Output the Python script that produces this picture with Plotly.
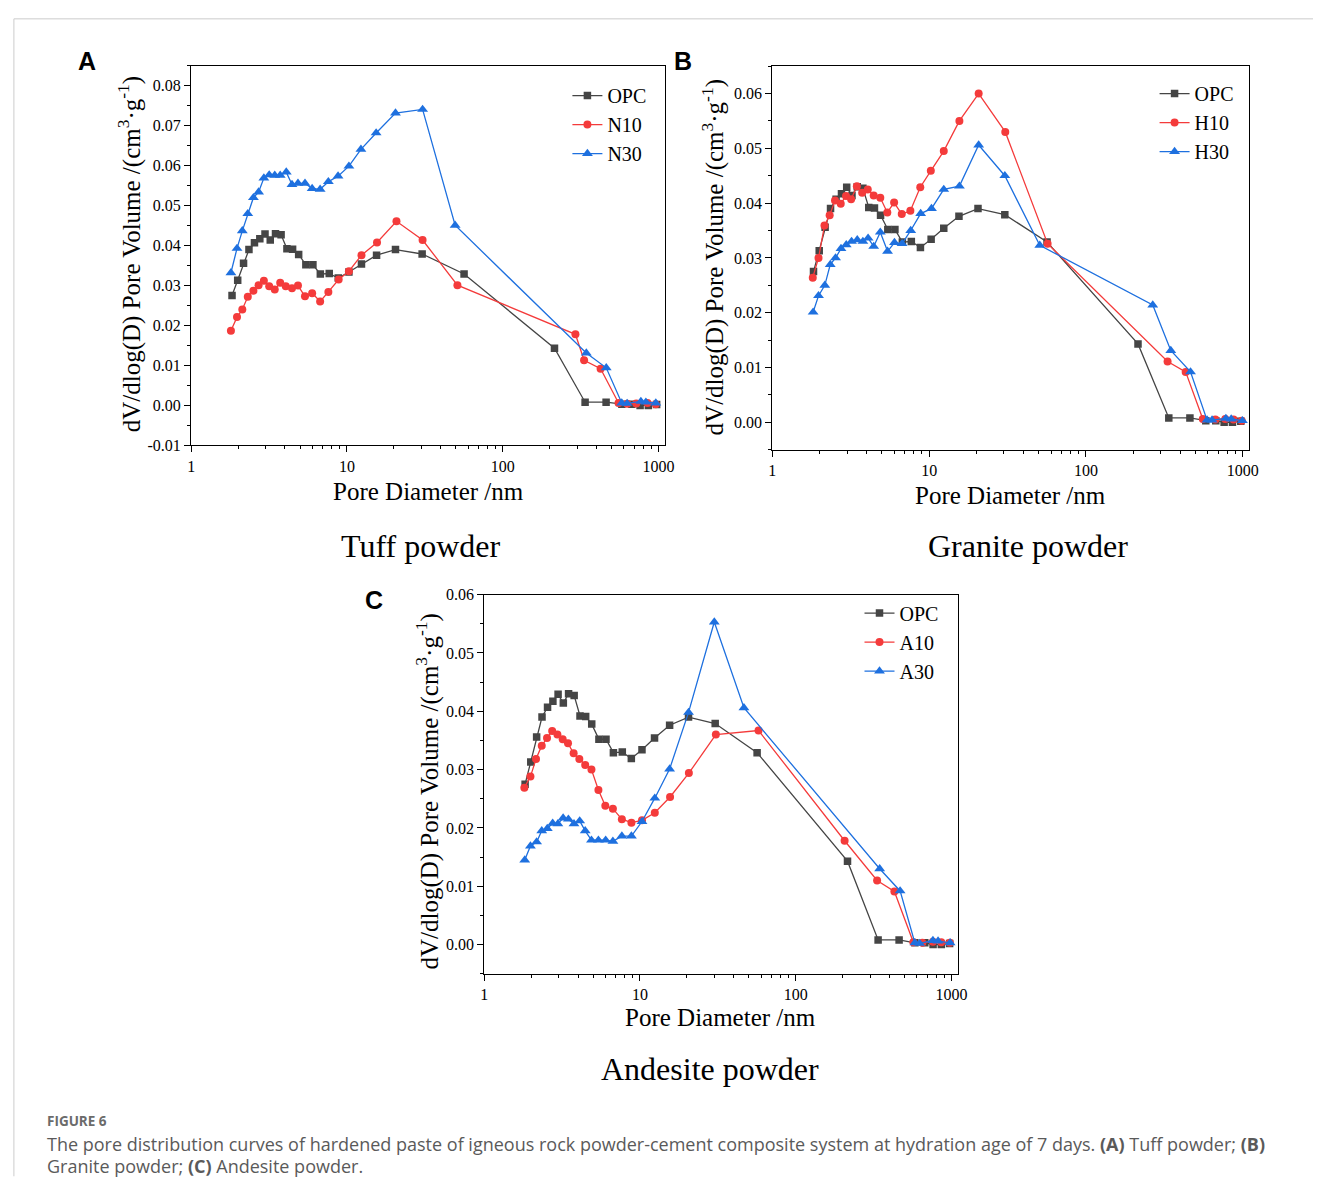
import plotly.graph_objects as go

W, H = 1322, 1204

# ---------------- data ----------------
opc_d = [1.83, 1.99, 2.17, 2.35, 2.55, 2.76, 2.98, 3.22, 3.48, 3.78, 4.12, 4.48, 4.9, 5.45, 6.05, 6.75,
         7.7, 8.8, 10.3, 12.4, 15.5, 20.5, 30.4, 56.5, 215, 338, 461, 582, 674, 762, 861, 973]
opc_v = [0.0275, 0.0313, 0.0356, 0.039, 0.0407, 0.0417, 0.0429, 0.0414, 0.043, 0.0427, 0.0392, 0.0391,
         0.0378, 0.0352, 0.0352, 0.0329, 0.033, 0.0319, 0.0334, 0.0354, 0.0376, 0.039, 0.0379, 0.0329,
         0.0143, 0.0008, 0.0008, 0.0003, 0.0003, 0.0000, 0.0000, 0.0002]

n10_d = [1.80, 1.97, 2.13, 2.31, 2.51, 2.71, 2.93, 3.17, 3.44, 3.73, 4.05, 4.44, 4.85, 5.38, 5.98, 6.73,
         7.60, 8.85, 10.3, 12.4, 15.6, 20.8, 30.6, 51.2, 293, 333, 425, 554, 630, 720, 850, 960]
n10_v = [0.0187, 0.0221, 0.024, 0.0272, 0.0287, 0.0301, 0.0312, 0.0298, 0.029, 0.0307, 0.0298, 0.0293,
         0.03, 0.0273, 0.0281, 0.026, 0.0284, 0.0315, 0.0336, 0.0376, 0.0408, 0.0461, 0.0414, 0.0301,
         0.0178, 0.0113, 0.0092, 0.0006, 0.0004, 0.0005, 0.0006, 0.0003]

n30_d = [1.80, 1.97, 2.13, 2.31, 2.51, 2.71, 2.93, 3.17, 3.44, 3.73, 4.08, 4.44, 4.85, 5.38, 5.98, 6.73,
         7.60, 8.77, 10.3, 12.3, 15.4, 20.5, 30.6, 49.5, 344, 462, 581, 629, 771, 830, 961]
n30_v = [0.0332, 0.0393, 0.0437, 0.048, 0.052, 0.0534, 0.0569, 0.0577, 0.0576, 0.0576, 0.0584, 0.0553,
         0.0556, 0.0556, 0.0543, 0.0541, 0.056, 0.0574, 0.0599, 0.0641, 0.0682, 0.0732, 0.0741, 0.0451,
         0.0131, 0.0094, 0.0006, 0.0005, 0.001, 0.0008, 0.0006]

h10_d = [1.81, 1.97, 2.15, 2.32, 2.51, 2.73, 2.95, 3.18, 3.46, 3.74, 4.06, 4.43, 4.88, 5.41, 5.98, 6.69,
         7.59, 8.78, 10.25, 12.4, 15.6, 20.7, 30.6, 57, 332, 433, 557, 670, 775, 875, 987]
h10_v = [0.0264, 0.03, 0.0359, 0.0378, 0.0405, 0.0399, 0.0413, 0.0407, 0.0431, 0.0419, 0.0425, 0.0414,
         0.041, 0.0383, 0.0401, 0.038, 0.0386, 0.0429, 0.0459, 0.0495, 0.055, 0.06, 0.053, 0.0326,
         0.0111, 0.0092, 0.0006, 0.0005, 0.0006, 0.0005, 0.0003]

h30_d = [1.82, 1.97, 2.16, 2.34, 2.53, 2.74, 2.96, 3.20, 3.48, 3.78, 4.08, 4.43, 4.88, 5.43, 6.01, 6.72,
         7.63, 8.83, 10.35, 12.4, 15.6, 20.7, 30.4, 50.8, 267, 348, 465, 593, 638, 782, 845, 997]
h30_v = [0.0201, 0.0231, 0.025, 0.0288, 0.03, 0.0317, 0.0324, 0.033, 0.0333, 0.033, 0.0336, 0.0321,
         0.0347, 0.0312, 0.0328, 0.0326, 0.035, 0.0381, 0.039, 0.0425, 0.0431, 0.0506, 0.045, 0.0323,
         0.0214, 0.0131, 0.0092, 0.0004, 0.0004, 0.0007, 0.0006, 0.0003]

a10_d = [1.81, 1.98, 2.15, 2.34, 2.53, 2.73, 2.95, 3.19, 3.45, 3.75, 4.08, 4.45, 4.88, 5.41, 5.99, 6.70,
         7.65, 8.81, 10.3, 12.45, 15.6, 20.6, 30.7, 57.7, 206, 333, 430, 569, 650, 760, 860, 975]
a10_v = [0.0269, 0.0288, 0.0318, 0.0341, 0.0354, 0.0366, 0.036, 0.0352, 0.0345, 0.0328, 0.0318, 0.0308,
         0.03, 0.0265, 0.0238, 0.0233, 0.0215, 0.0209, 0.0213, 0.0226, 0.0253, 0.0294, 0.036, 0.0367,
         0.0178, 0.011, 0.0091, 0.0004, 0.0003, 0.0005, 0.0004, 0.0003]

a30_d = [1.82, 1.98, 2.17, 2.34, 2.54, 2.75, 2.97, 3.21, 3.47, 3.77, 4.10, 4.45, 4.88, 5.41, 6.02, 6.70,
         7.65, 8.81, 10.3, 12.45, 15.5, 20.5, 30.0, 46.5, 346, 468, 582, 625, 760, 820, 980]
a30_v = [0.0145, 0.0169, 0.0176, 0.0195, 0.0199, 0.0208, 0.0207, 0.0217, 0.0215, 0.0207, 0.0212, 0.0195,
         0.0179, 0.0179, 0.0179, 0.0177, 0.0186, 0.0186, 0.0211, 0.0251, 0.0301, 0.0398, 0.0553, 0.0406,
         0.013, 0.0092, 0.0003, 0.0002, 0.0007, 0.0006, 0.0003]

x_ticks = [1, 10, 100, 1000]
x_tick_text = ["1", "10", "100", "1000"]
x_minor = [m * 10 ** e for e in range(3) for m in range(2, 10)]

y_ticks_a = [-0.01, 0.0, 0.01, 0.02, 0.03, 0.04, 0.05, 0.06, 0.07, 0.08]
y_text_a = ["-0.01", "0.00", "0.01", "0.02", "0.03", "0.04", "0.05", "0.06", "0.07", "0.08"]
y_ticks_b = [0.0, 0.01, 0.02, 0.03, 0.04, 0.05, 0.06]
y_text_b = ["0.00", "0.01", "0.02", "0.03", "0.04", "0.05", "0.06"]
y_ticks_c = [0.0, 0.01, 0.02, 0.03, 0.04, 0.05, 0.06]
y_text_c = ["0.00", "0.01", "0.02", "0.03", "0.04", "0.05", "0.06"]

panel_titles = ["Tuff powder", "Granite powder", "Andesite powder"]
panel_letters = ["A", "B", "C"]
series_names = [["OPC", "N10", "N30"], ["OPC", "H10", "H30"], ["OPC", "A10", "A30"]]
x_title = "Pore Diameter /nm"
y_title = "dV/dlog(D) Pore Volume /(cm<sup>3</sup>·g<sup>-1</sup>)"
caption_head = "FIGURE 6"
caption_l1 = ("The pore distribution curves of hardened paste of igneous rock powder-cement composite "
              "system at hydration age of 7 days. <b>(A)</b> Tuff powder; <b>(B)</b>")
caption_l2 = "Granite powder; <b>(C)</b> Andesite powder."

# ---------------- styling ----------------
SERIF = "Liberation Serif"
C_GRAY, C_RED, C_BLUE = "#454545", "#F43B3B", "#1E70DF"
styles = [(C_GRAY, "square", 7.5), (C_RED, "circle", 8), (C_BLUE, "triangle-up", 9.5)]

# pixel boxes (left, top, right, bottom)
boxes = [(189, 58.7, 667.5, 443.6), (776, 59, 1257.5, 448), (485, 595, 963.4, 979.6)]
yranges = [(-0.01, 0.085), (-0.005, 0.065), (-0.005, 0.06)]
yticks = [(y_ticks_a, y_text_a), (y_ticks_b, y_text_b), (y_ticks_c, y_text_c)]

data = [[(opc_d, opc_v), (n10_d, n10_v), (n30_d, n30_v)],
        [(opc_d, opc_v), (h10_d, h10_v), (h30_d, h30_v)],
        [(opc_d, opc_v), (a10_d, a10_v), (a30_d, a30_v)]]

fig = go.Figure()
layout = dict(width=W, height=H, margin=dict(l=0, r=0, t=0, b=0),
              paper_bgcolor="white", plot_bgcolor="white", showlegend=True)

legend_pos = [(569, 69), (1162, 67), (864, 594)]

for i in range(3):
    sfx = "" if i == 0 else str(i + 1)
    leg = "legend" if i == 0 else f"legend{i + 1}"
    for j in range(3):
        col, sym, sz = styles[j]
        d, v = data[i][j]
        fig.add_trace(go.Scatter(
            x=d, y=v, mode="lines+markers", name=series_names[i][j],
            line=dict(color=col, width=1.3),
            marker=dict(symbol=sym, size=sz, color=col),
            xaxis=f"x{sfx}", yaxis=f"y{sfx}", legend=leg))
    l, t, r, b = boxes[i]
    axis_common = dict(showline=True, linecolor="black", linewidth=1.3, mirror=True,
                       showgrid=False, zeroline=False, ticks="outside", ticklen=6,
                       tickwidth=1.2, tickcolor="black",
                       tickfont=dict(family=SERIF, size=16, color="black"))
    layout[f"xaxis{sfx}"] = dict(
        type="log", range=[0, 3.0414], domain=[l / W, r / W],
        anchor=f"y{sfx}", tickvals=x_ticks, ticktext=x_tick_text,
        minor=dict(tickvals=x_minor, ticks="outside", ticklen=3, tickcolor="black", tickwidth=1),
        **axis_common)
    tv, tt = yticks[i]
    layout[f"yaxis{sfx}"] = dict(
        range=list(yranges[i]), domain=[1 - b / H, 1 - t / H], anchor=f"x{sfx}",
        tickvals=tv, ticktext=tt,
        minor=dict(dtick=0.005, tick0=0, ticks="outside", ticklen=3, tickcolor="black", tickwidth=1),
        **axis_common)
    lx, ly = legend_pos[i]
    layout[leg] = dict(x=lx / W, y=1 - ly / H, xanchor="left", yanchor="top",
                       bgcolor="rgba(0,0,0,0)", font=dict(family=SERIF, size=20, color="black"),
                       tracegroupgap=0, itemwidth=30)

fig.update_layout(**layout)

ann = []
xt_pos = [(429, 490), (1017, 494), (724, 1024)]
yt_pos = [(127, 250), (716, 253), (428, 795)]
title_pos = [(421, 546), (1034, 546), (713, 1076)]
letter_pos = [(84, 54), (686, 54), (374, 600)]
for i in range(3):
    ann.append(dict(x=xt_pos[i][0] / W, y=1 - xt_pos[i][1] / H, text=x_title, showarrow=False,
                    xref="paper", yref="paper", xanchor="center", yanchor="middle",
                    font=dict(family=SERIF, size=25, color="black")))
    ann.append(dict(x=yt_pos[i][0] / W, y=1 - yt_pos[i][1] / H, text=y_title, showarrow=False,
                    xref="paper", yref="paper", xanchor="center", yanchor="middle", textangle=-90,
                    font=dict(family=SERIF, size=25, color="black")))
    ann.append(dict(x=title_pos[i][0] / W, y=1 - title_pos[i][1] / H, text=panel_titles[i],
                    showarrow=False, xref="paper", yref="paper", xanchor="center", yanchor="middle",
                    font=dict(family=SERIF, size=32, color="black")))
    ann.append(dict(x=letter_pos[i][0] / W, y=1 - letter_pos[i][1] / H,
                    text="<b>" + panel_letters[i] + "</b>",
                    showarrow=False, xref="paper", yref="paper", xanchor="center", yanchor="middle",
                    font=dict(family="Liberation Sans", size=25, color="black")))

ann.append(dict(x=41 / W, y=1 - 1129 / H, text="<b>" + caption_head + "</b>", showarrow=False,
                xref="paper", yref="paper", xanchor="left", yanchor="middle",
                font=dict(family="Open Sans", size=13.5, color="#6b6b6b")))
ann.append(dict(x=41 / W, y=1 - 1152 / H, text=caption_l1, showarrow=False,
                xref="paper", yref="paper", xanchor="left", yanchor="middle",
                font=dict(family="Open Sans", size=18, color="#5a5a5a")))
ann.append(dict(x=41 / W, y=1 - 1175 / H, text=caption_l2, showarrow=False,
                xref="paper", yref="paper", xanchor="left", yanchor="middle",
                font=dict(family="Open Sans", size=18, color="#5a5a5a")))

fig.update_layout(annotations=ann)

fig.update_layout(shapes=[
    dict(type="line", xref="paper", yref="paper", x0=10 / W, x1=1.0, y0=1 - 11 / H, y1=1 - 11 / H,
         line=dict(color="#cccccc", width=1)),
    dict(type="line", xref="paper", yref="paper", x0=10 / W, x1=10 / W, y0=1 - 11 / H, y1=1 - 1185 / H,
         line=dict(color="#cccccc", width=1)),
])

fig.write_html("out.html")
